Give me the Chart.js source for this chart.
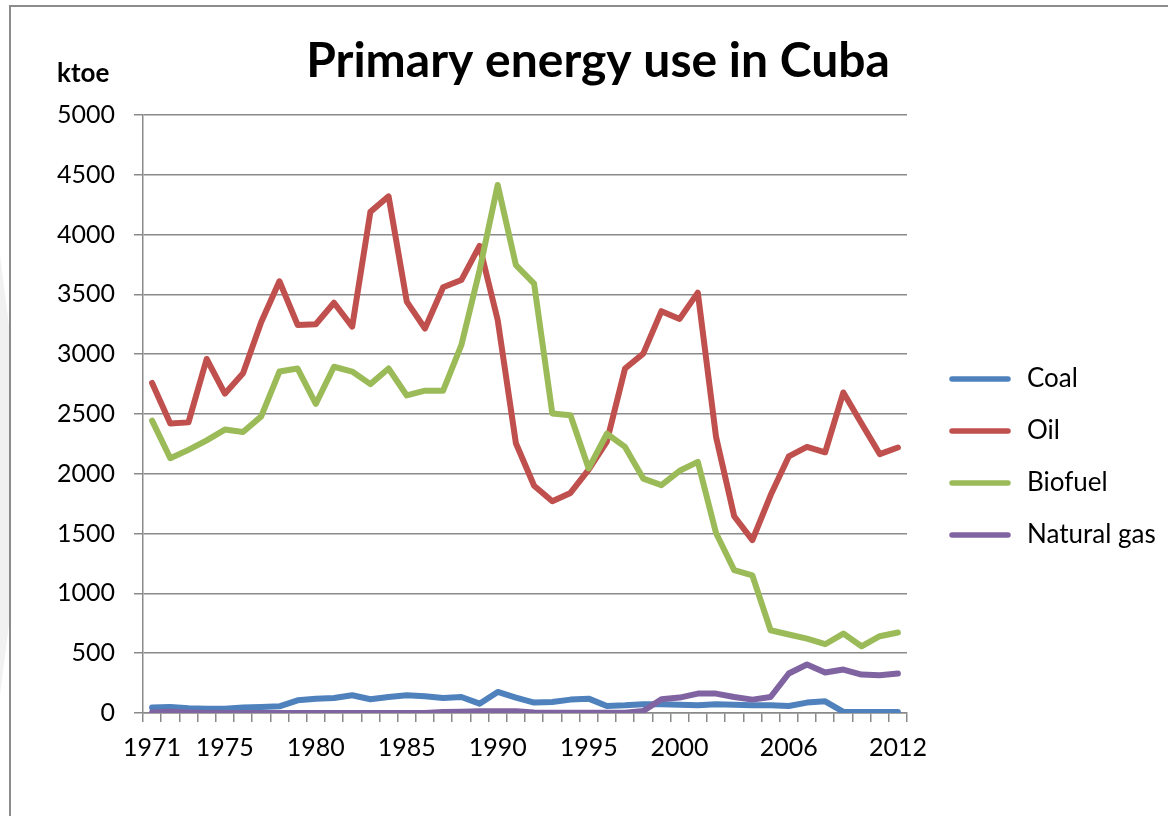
<!DOCTYPE html>
<html>
<head>
<meta charset="utf-8">
<title>Primary energy use in Cuba</title>
<script src="https://cdn.jsdelivr.net/npm/chart.js"></script>
<style>
  html, body { margin: 0; padding: 0; background: #fff; }
  #wrap { position: relative; width: 1168px; height: 816px; overflow: hidden; }
  #frame { position: absolute; left: 9px; top: 5px; width: 1200px; height: 900px;
           border-left: 2px solid #8c8c8c; border-top: 2px solid #8c8c8c; }
  #shade { position: absolute; left: 0; top: 255px; width: 9px; height: 440px; background: #f1f1f1;
           clip-path: polygon(0 0, 100% 16%, 100% 84%, 0 100%); }
  #energy-chart { position: absolute; left: 0; top: 0; }
</style>
</head>
<body>
<div id="wrap">
  <div id="shade"></div>
  <div id="frame"></div>
  <canvas id="energy-chart" width="1168" height="816"></canvas>
</div>
<script>
var years = [];
for (var y = 1971; y <= 2012; y++) years.push(String(y));

// years that get a label under the axis
var labelYears = ['1971', '1975', '1980', '1985', '1990', '1995', '2000', '2006', '2012'];

// ktoe
var coal = [45, 50, 40, 36, 36, 45, 50, 56, 106, 120,
            126, 148, 115, 134, 148, 140, 126, 134, 78, 176,
            129, 87, 92, 112, 120, 59, 64, 73, 73, 70,
            64, 73, 68, 64, 64, 59, 87, 98, 10, 8,
            8, 8];
var oil = [2760, 2420, 2430, 2960, 2670, 2840, 3270, 3610, 3245, 3250,
           3430, 3230, 4190, 4320, 3440, 3215, 3560, 3620, 3905, 3285,
           2255, 1900, 1770, 1840, 2035, 2270, 2880, 3005, 3360, 3295,
           3515, 2310, 1645, 1445, 1820, 2145, 2225, 2180, 2680, 2420,
           2165, 2220];
var biofuel = [2445, 2130, 2200, 2280, 2370, 2350, 2480, 2855, 2880, 2585,
               2895, 2855, 2750, 2880, 2655, 2695, 2695, 3075, 3700, 4415,
               3745, 3590, 2505, 2490, 2045, 2335, 2225, 1960, 1905, 2025,
               2100, 1505, 1195, 1150, 692, 656, 622, 575, 664, 558,
               642, 673];
var naturalGas = [5, 10, 5, 0, 0, 0, 0, 0, 0, 0,
                  0, 0, 0, 0, 0, 0, 8, 10, 15, 15,
                  15, 5, 2, 2, 2, 2, 2, 17, 115, 129,
                  162, 162, 134, 112, 134, 330, 405, 338, 363, 321,
                  315, 330];

var FONT = 'Lato, "Open Sans", sans-serif';
var GRID = '#8a8a8a';

// title, unit label and legend drawn straight on the canvas
var decorations = {
    id: 'decorations',
    afterDraw: function(chart) {
        var c = chart.ctx;
        c.save();
        c.fillStyle = '#000';
        c.textBaseline = 'middle';

        c.font = 'bold 48px ' + FONT;
        c.textAlign = 'center';
        c.fillText('Primary energy use in Cuba', 598, 62);

        c.font = 'bold 26px ' + FONT;
        c.textAlign = 'left';
        c.fillText('ktoe', 57, 74);

        c.font = '26px ' + FONT;
        chart.data.datasets.forEach(function(ds, i) {
            var ly = 379 + i * 52;
            c.beginPath();
            c.strokeStyle = ds.borderColor;
            c.lineWidth = 5.5;
            c.lineCap = 'round';
            c.moveTo(952, ly);
            c.lineTo(1008, ly);
            c.stroke();
            c.fillText(ds.label, 1027, ly);
        });
        c.restore();
    }
};

function series(label, data, color, order) {
    return {
        label: label,
        data: data,
        borderColor: color,
        backgroundColor: color,
        borderWidth: 6,
        borderCapStyle: 'round',
        borderJoinStyle: 'round',
        pointRadius: 0,
        tension: 0,
        fill: false,
        order: order
    };
}

var ctx = document.getElementById('energy-chart').getContext('2d');
var energyChart = new Chart(ctx, {
    type: 'line',
    data: {
        labels: years,
        datasets: [
            series('Coal', coal, '#4F81BD', 4),
            series('Oil', oil, '#C0504D', 3),
            series('Biofuel', biofuel, '#9BBB59', 2),
            series('Natural gas', naturalGas, '#8064A2', 1)
        ]
    },
    options: {
        responsive: false,
        animation: false,
        devicePixelRatio: 1,
        layout: {
            padding: { left: 0, top: 115, right: 261, bottom: 0 }
        },
        plugins: {
            legend: { display: false },
            title: { display: false },
            tooltip: { enabled: false }
        },
        scales: {
            x: {
                type: 'category',
                offset: true,
                grid: {
                    offset: true,
                    drawOnChartArea: false,
                    drawTicks: true,
                    tickLength: 9,
                    color: GRID,
                    lineWidth: 1.5
                },
                border: { color: GRID, width: 1.5 },
                ticks: {
                    autoSkip: false,
                    maxRotation: 0,
                    padding: 11,
                    color: '#000',
                    font: { family: FONT, size: 25 },
                    callback: function(value, index) {
                        var yr = years[index];
                        return labelYears.indexOf(yr) >= 0 ? yr : '';
                    }
                },
                afterFit: function(scale) { scale.height = 103; }
            },
            y: {
                min: 0,
                max: 5000,
                grid: {
                    color: GRID,
                    lineWidth: 1.5,
                    tickLength: 9
                },
                border: { color: GRID, width: 1.5 },
                ticks: {
                    stepSize: 500,
                    padding: 19,
                    color: '#000',
                    font: { family: FONT, size: 25 },
                    callback: function(value) { return String(value); }
                },
                afterFit: function(scale) { scale.width = 143; }
            }
        }
    },
    plugins: [decorations]
});
</script>
</body>
</html>
